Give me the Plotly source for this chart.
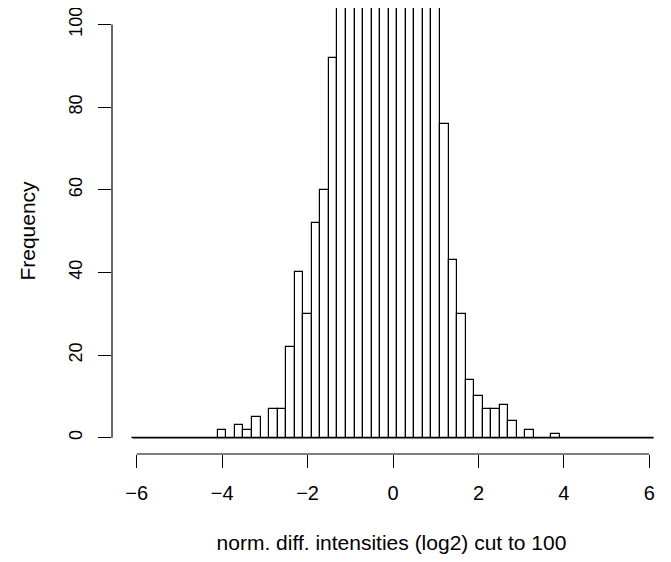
import plotly.graph_objects as go

# bin centers (width 0.2, breaks -6.1 ... 6.1)
bin_width = 0.2
centers = [round(-6.0 + 0.2 * i, 1) for i in range(61)]

# counts (bars from -1.2 to 1.0 are cut at the top; values estimated)
count_map = {
    -4.0: 2, -3.6: 3, -3.4: 2, -3.2: 5, -2.8: 7, -2.6: 7, -2.4: 22, -2.2: 40,
    -2.0: 30, -1.8: 52, -1.6: 60, -1.4: 92,
    -1.2: 118, -1.0: 145, -0.8: 180, -0.6: 215, -0.4: 240, -0.2: 255,
    0.0: 262, 0.2: 250, 0.4: 230, 0.6: 195, 0.8: 160, 1.0: 125,
    1.2: 76, 1.4: 43, 1.6: 30, 1.8: 14, 2.0: 10, 2.2: 7, 2.4: 7, 2.6: 8,
    2.8: 4, 3.2: 2, 3.8: 1,
}
counts = [count_map.get(c, 0) for c in centers]

x_ticks = [-6, -4, -2, 0, 2, 4, 6]
x_tick_text = ["\u22126", "\u22124", "\u22122", "0", "2", "4", "6"]
y_ticks = [0, 20, 40, 60, 80, 100]

edges_lo = centers[0] - bin_width / 2
edges_hi = centers[-1] + bin_width / 2

FONT = "Liberation Sans, Arial, Helvetica, sans-serif"

fig = go.Figure()
fig.add_trace(go.Scatter(
    x=[edges_lo, edges_hi], y=[0, 0], mode="lines",
    line=dict(color="black", width=1.2), hoverinfo="skip", showlegend=False,
))
fig.add_trace(go.Bar(
    x=centers, y=counts, width=bin_width,
    marker=dict(color="white", line=dict(color="black", width=1.2)),
    showlegend=False,
))

# page body has an 8px margin, so the figure is shifted left/up by 8px here
fig.update_layout(
    width=671, height=562,
    margin=dict(l=104, r=8, t=0, b=116, autoexpand=False),
    paper_bgcolor="white", plot_bgcolor="white",
    font=dict(family=FONT, size=20, color="black"),
    bargap=0,
    xaxis=dict(
        range=[-6.578, 6.507], tickmode="array", tickvals=x_ticks,
        ticktext=x_tick_text,
        ticks="outside", ticklen=13, tickwidth=1.2, tickcolor="black",
        ticklabelstandoff=8, ticklabeloverflow="allow",
        showline=False, showgrid=False, zeroline=False,
        title=dict(text="norm. diff. intensities (log2) cut to 100", standoff=32,
                   font=dict(size=21)),
        tickfont=dict(size=20),
    ),
    yaxis=dict(
        range=[-3.92, 103.99], tickmode="array", tickvals=y_ticks,
        ticks="outside", ticklen=13, tickwidth=1.2, tickcolor="black",
        tickangle=-90, ticklabelstandoff=9, ticklabeloverflow="allow",
        showline=False, showgrid=False, zeroline=False,
        title=dict(text="Frequency", standoff=24, font=dict(size=21)),
        tickfont=dict(size=18),
    ),
    shapes=[
        dict(type="line", xref="x", yref="paper", x0=min(x_ticks), x1=max(x_ticks),
             y0=0, y1=0, line=dict(color="black", width=1.2)),
        dict(type="line", xref="paper", yref="y", x0=0, x1=0,
             y0=min(y_ticks), y1=max(y_ticks), line=dict(color="black", width=1.2)),
    ],
)

fig.write_html("out.html")
